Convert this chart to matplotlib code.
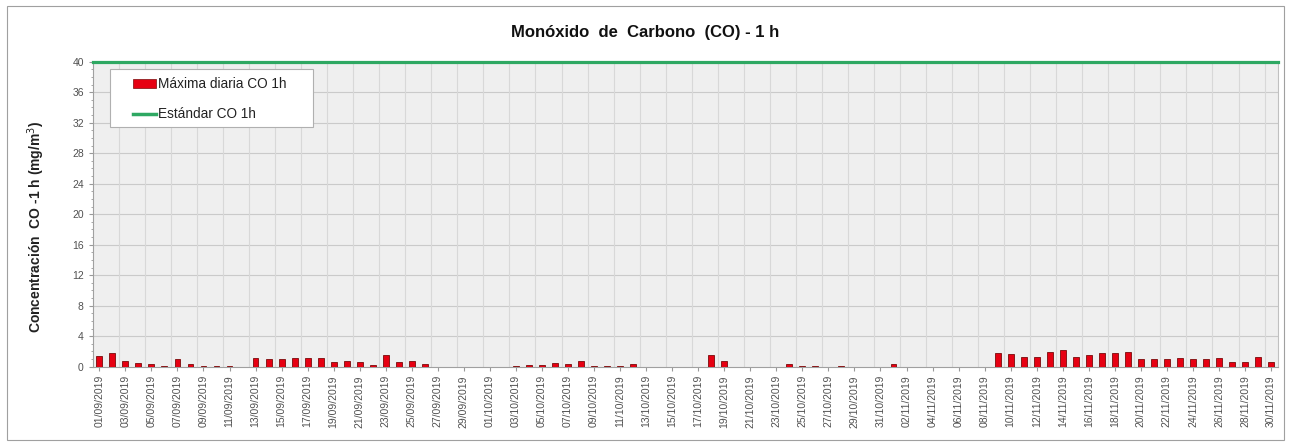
import matplotlib
matplotlib.use("Agg")
import matplotlib.pyplot as plt
import numpy as np
import pandas as pd
from matplotlib.patches import Rectangle, Patch
from matplotlib.lines import Line2D

plt.rcParams['font.family'] = ['Liberation Sans', 'DejaVu Sans']

dates = pd.date_range("2019-09-01", "2019-11-30", freq="D")
date_labels = [d.strftime("%d/%m/%Y") for d in dates]

co_max = [1.4, 1.85, 0.7, 0.5, 0.35, 0.15, 1.0, 0.4, 0.15, 0.15,
          0.15, 0.0, 1.1, 1.0, 1.0, 1.2, 1.2, 1.2, 0.6, 0.8,
          0.6, 0.2, 1.5, 0.6, 0.8, 0.3, 0.0, 0.0, 0.0, 0.0,
          0.0, 0.0, 0.15, 0.2, 0.25, 0.5, 0.3, 0.7, 0.1, 0.1,
          0.1, 0.4, 0.0, 0.0, 0.0, 0.0, 0.0, 1.55, 0.8, 0.0,
          0.0, 0.0, 0.0, 0.35, 0.1, 0.1, 0.0, 0.1, 0.0, 0.0,
          0.0, 0.3, 0.0, 0.0, 0.0, 0.0, 0.0, 0.0, 0.0, 1.85,
          1.6, 1.3, 1.25, 1.9, 2.2, 1.25, 1.5, 1.75, 1.75, 1.9,
          1.05, 1.0, 1.0, 1.1, 1.05, 1.05, 1.2, 0.6, 0.6, 1.3,
          0.6]
standard = [40] * len(dates)

W, H = 1291, 445
fig = plt.figure(figsize=(W/100, H/100), dpi=100)
fig.patches.append(Rectangle((7/W, 1-440/H), 1277/W, 434/H,
                             transform=fig.transFigure, fill=False,
                             edgecolor="#a0a0a0", linewidth=0.8))

ax = fig.add_axes([0.0719, 0.176, 0.9177, 0.6853])
ax.set_facecolor("#efefef")
x = np.arange(len(dates))
ax.bar(x, co_max, width=0.45, color="#e60012", edgecolor="#7a0a0a", linewidth=0.6, zorder=3)
ax.plot([-0.5] + list(x) + [len(dates)-0.5], [standard[0]] + standard + [standard[-1]],
        color="#2ea862", linewidth=2.3, zorder=4, clip_on=False)

ax.set_xlim(-0.5, len(dates)-0.5)
ax.set_ylim(0, 40)
ax.set_yticks(np.arange(0, 41, 4))
ax.set_yticks(np.arange(0, 41, 1), minor=True)
ax.set_xticks(x[::2])
ax.set_xticklabels(date_labels[::2], rotation=90, fontsize=7.5, color="#505050")
ax.tick_params(axis='y', labelsize=7.5, labelcolor="#505050", length=3, color="#999999")
ax.tick_params(axis='y', which='minor', length=1.5, color="#999999")
ax.tick_params(axis='x', length=3, color="#999999", pad=3)

for yv in np.arange(4, 40, 4):
    ax.axhline(yv, color="#cacaca", linewidth=0.8, zorder=1)
for xv in np.arange(1.5, len(dates), 2):
    ax.axvline(xv, color="#d8d8d8", linewidth=0.8, zorder=1)

ax.spines["right"].set_color("#c0c0c0")
for s in ["left", "bottom"]:
    ax.spines[s].set_color("#a0a0a0")
ax.spines["top"].set_visible(False)

ax.set_ylabel("Concentración  CO -1 h (mg/m$^3$)", fontsize=10, fontweight="bold",
              color="#222222")
ax.yaxis.set_label_coords((47-92.8)/1185, 1-(227-61.7)/305)
fig.text(0.5, 1-33/H, "Monóxido  de  Carbono  (CO) - 1 h", ha="center", va="center",
         fontsize=12, fontweight="bold", color="#111111")

# legend frame (pixel box 110..313 x 69..127)
fig.patches.append(Rectangle((110/W, 1-127/H), 203/W, 58/H, transform=fig.transFigure,
                             facecolor="white", edgecolor="#b0b0b0", linewidth=0.8,
                             zorder=4))
handles = [Patch(facecolor="#e60012", edgecolor="#7a0a0a", linewidth=0.5),
           Line2D([0], [0], color="#2ea862", linewidth=2.5)]
leg = fig.legend(handles, ["Máxima diaria CO 1h", "Estándar CO 1h"],
                 loc="upper left", bbox_to_anchor=(133/W, 1-77/H), fontsize=9.8,
                 frameon=False, handlelength=1.7, handletextpad=0.15,
                 borderpad=0.0, labelspacing=1.2, borderaxespad=0, handleheight=0.6)
leg.set_zorder(6)
for t in leg.get_texts():
    t.set_color("#222222")

fig.savefig("out.png", dpi=100)
